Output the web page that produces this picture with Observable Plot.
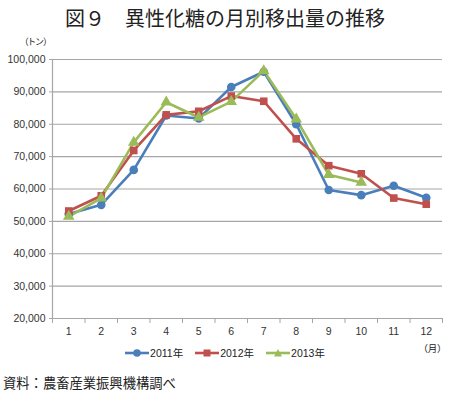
<!DOCTYPE html>
<html><head><meta charset="utf-8">
<script src="https://cdn.jsdelivr.net/npm/d3@7"></script>
<script src="https://cdn.jsdelivr.net/npm/@observablehq/plot@0.6"></script>
<style>
body{margin:0;background:#fff;font-family:"Noto Sans CJK JP","Noto Sans",sans-serif;color:#222;}
#wrap{position:relative;width:450px;height:394px;overflow:hidden;}
.abs{position:absolute;white-space:nowrap;}
#title{left:0;width:450px;top:4px;text-align:center;font-size:20px;line-height:28px;}
#unitY{left:24px;top:35px;font-size:9px;line-height:14px;font-feature-settings:"palt";}
#unitX{left:423px;top:341px;font-size:9.5px;line-height:14px;font-feature-settings:"palt";}
#legend{left:0;width:450px;top:345px;text-align:center;font-size:10.5px;line-height:16px;font-family:"Liberation Sans","Noto Sans CJK JP",sans-serif;}
#legend span{display:inline-flex;align-items:center;margin:0 6px;}
#legend svg{margin-right:1px;}
#caption{left:3px;top:374px;font-size:13.3px;line-height:18px;}
#chart{position:absolute;left:0;top:30px;}
</style></head>
<body><div id="wrap">
<div id="title" class="abs">図９　異性化糖の月別移出量の推移</div>
<div id="unitY" class="abs">（トン）</div>
<div id="chart"></div>
<div id="unitX" class="abs">（月）</div>
<div id="legend" class="abs"></div>
<div id="caption" class="abs">資料：農畜産業振興機構調べ</div>
</div>
<script>
const months = [1,2,3,4,5,6,7,8,9,10,11,12];
const seriesNames = ["2011年","2012年","2013年"];
const v2011 = [52300,55100,65900,82700,81800,91500,96200,80000,59700,58100,61000,57300];
const v2012 = [53200,57900,71900,82900,84000,88700,87100,75500,67200,64700,57200,55300];
const v2013 = [51500,57200,74400,86800,82100,87000,96500,81600,64400,62000];
const yTicks = [20000,30000,40000,50000,60000,70000,80000,90000,100000];
const colors = ["#4A7EBB","#C0504D","#9BBB59"];
const symbols = ["circle","square","triangle"];

const rows = [];
[v2011,v2012,v2013].forEach((arr,i)=>arr.forEach((v,j)=>rows.push({month:months[j],value:v,series:seriesNames[i]})));
const bounds = d3.range(0.5, 13, 1);
const fmt = d3.format(",");

const chart = Plot.plot({
  width:450, height:320,
  marginTop:29, marginBottom:32, marginLeft:52, marginRight:8,
  style:{fontFamily:"'Liberation Sans','DejaVu Sans',sans-serif", fontSize:"10px", color:"#333", background:"transparent"},
  x:{type:"linear", domain:[0.5,12.5]},
  y:{domain:[20000,100000]},
  color:{domain:seriesNames, range:colors},
  symbol:{domain:seriesNames, range:symbols},
  marks:[
    Plot.gridY(yTicks,{stroke:"#a6a6a6", strokeOpacity:1, strokeWidth:1.2}),
    Plot.ruleX([0.5],{y1:20000,y2:100000,stroke:"#a6a6a6",strokeWidth:1.2}),
    Plot.axisY(yTicks,{tickFormat:fmt, tickSize:3, tickPadding:4, stroke:"#a6a6a6", label:null, fontSize:10.5}),
    Plot.axisX(bounds,{tickFormat:()=>"", tickSize:5, stroke:"#a6a6a6", label:null}),
    Plot.axisX(months,{tickSize:0, tickPadding:9, label:null, fontSize:10.5}),
    Plot.line(rows,{x:"month",y:"value",z:"series",stroke:"series",strokeWidth:2.6}),
    Plot.dot(rows,{x:"month",y:"value",fill:"series",symbol:"series",r:4.3,stroke:null})
  ]
});
document.getElementById("chart").appendChild(chart);

const leg = document.getElementById("legend");
seriesNames.forEach((n,i)=>{
  const s = document.createElement("span");
  const shape = symbols[i]==="circle" ? `<circle cx="12" cy="6" r="3.8" fill="${colors[i]}"/>`
    : symbols[i]==="square" ? `<rect x="8.5" y="2.5" width="7" height="7" fill="${colors[i]}"/>`
    : `<path d="M12,2 L16,9.5 L8,9.5 Z" fill="${colors[i]}"/>`;
  s.innerHTML = `<svg width="24" height="12"><line x1="0" x2="24" y1="6" y2="6" stroke="${colors[i]}" stroke-width="2.6"/>${shape}</svg>${n}`;
  leg.appendChild(s);
});
</script>
</body></html>
